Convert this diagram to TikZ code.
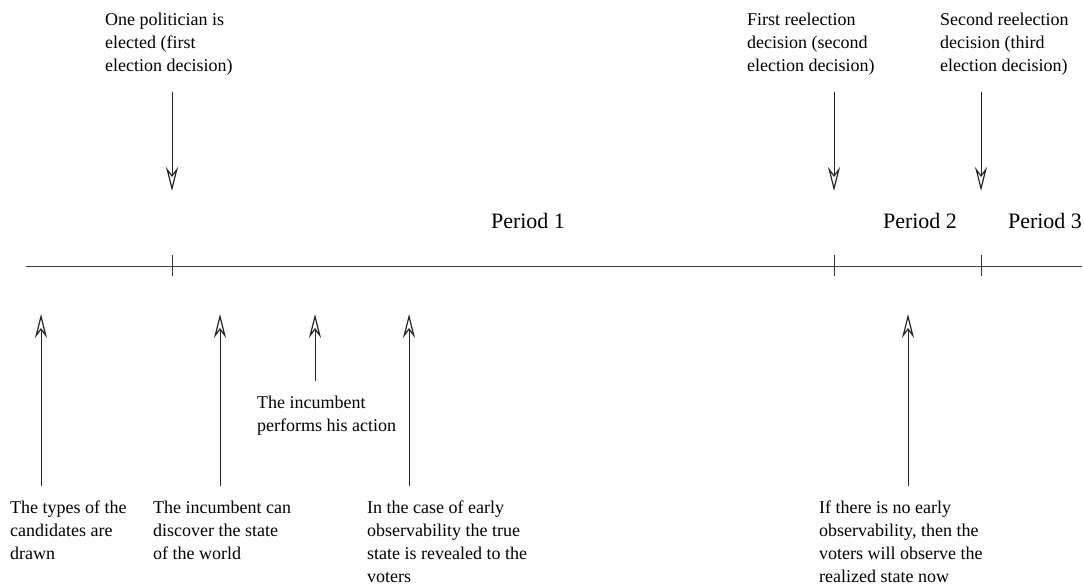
\documentclass[tikz,border=0pt]{standalone}
\usepackage{fontspec}
\setmainfont{Liberation Serif}
\usetikzlibrary{arrows.meta}
\begin{document}
\begin{tikzpicture}[x=1pt,y=-1pt,
  lbl/.style={anchor=north west,inner sep=0pt,align=left,font=\fontsize{18}{23}\selectfont},
  per/.style={anchor=base,inner sep=0pt,font=\fontsize{22}{26}\selectfont},
  evarrow/.style={line width=0.9pt,draw=black!85,-{Stealth[open,length=24pt,width=12pt,inset=8pt,line width=1.2pt]}},
  axis/.style={line width=0.9pt,draw=black!75},
  tick/.style={line width=0.9pt,draw=black!80}]
\useasboundingbox (0,0) rectangle (1084,585);

% timeline
\coordinate (tl0) at (26,266);
\coordinate (tl1) at (1082,266);
\draw[axis] (tl0) -- (tl1);
\foreach \n/\x in {t1/172,t2/834,t3/981}{
  \coordinate (\n a) at (\x,255);
  \coordinate (\n b) at (\x,276);
  \draw[tick] (\n a) -- (\n b);
}

% period labels
\node[per] (p1) at (528,229) {Period 1};
\node[per] (p2) at (920,229) {Period 2};
\node[per] (p3) at (1045,229) {Period 3};

% top labels
\node[lbl] (top1) at (105,12.5) {One politician is\\elected (first\\election decision)};
\node[lbl] (top2) at (747,12.5) {First reelection\\decision (second\\election decision)};
\node[lbl] (top3) at (940,12.5) {Second reelection\\decision (third\\election decision)};

\coordinate (d1s) at (172,92);  \coordinate (d1e) at (172,191);
\coordinate (d2s) at (834,92);  \coordinate (d2e) at (834,191);
\coordinate (d3s) at (981,92);  \coordinate (d3e) at (981,191);
\draw[evarrow] (d1s) -- (d1e);
\draw[evarrow] (d2s) -- (d2e);
\draw[evarrow] (d3s) -- (d3e);

% bottom labels
\node[lbl] (b1) at (10,501) {The types of the\\candidates are\\drawn};
\node[lbl] (b2) at (153,501) {The incumbent can\\discover the state\\of the world};
\node[lbl] (b3) at (257,396) {The incumbent\\performs his action};
\node[lbl] (b4) at (367,501) {In the case of early\\observability the true\\state is revealed to the\\voters};
\node[lbl] (b5) at (819,501) {If there is no early\\observability, then the\\voters will observe the\\realized state now};

\coordinate (u1s) at (41,486);  \coordinate (u1e) at (41,314);
\coordinate (u2s) at (220,486); \coordinate (u2e) at (220,314);
\coordinate (u3s) at (315,381); \coordinate (u3e) at (315,314);
\coordinate (u4s) at (409,486); \coordinate (u4e) at (409,314);
\coordinate (u5s) at (908,486); \coordinate (u5e) at (908,314);
\draw[evarrow] (u1s) -- (u1e);
\draw[evarrow] (u2s) -- (u2e);
\draw[evarrow] (u3s) -- (u3e);
\draw[evarrow] (u4s) -- (u4e);
\draw[evarrow] (u5s) -- (u5e);
\end{tikzpicture}
\end{document}
